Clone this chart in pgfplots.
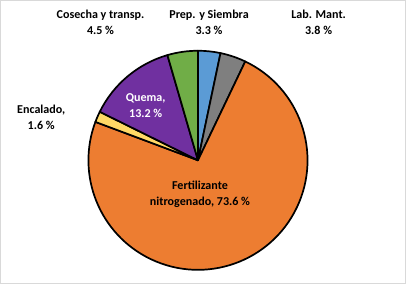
\documentclass[border=0pt]{standalone}
\usepackage{pgfplots}
\pgfplotsset{compat=1.18}
\usepackage{fontspec}
\setmainfont{Carlito}
\definecolor{cBlue}{HTML}{5B9BD5}
\definecolor{cGray}{HTML}{7F7F7F}
\definecolor{cOrange}{HTML}{ED7D31}
\definecolor{cYellow}{HTML}{FFD966}
\definecolor{cPurple}{HTML}{7030A0}
\definecolor{cGreen}{HTML}{70AD47}
\definecolor{cFrame}{HTML}{D9D9D9}
\begin{document}
\begin{tikzpicture}
\begin{axis}[
  scale only axis, width=406bp, height=285bp,
  xmin=0, xmax=406, ymin=0, ymax=285,
  hide axis, clip=false,
]
\draw[cFrame, line width=1bp] (axis cs:1.5,1.5) rectangle (axis cs:404.5,283.5);
% slices, clockwise from 12 o'clock (values in %)
\gdef\acc{90}
\foreach \v/\col in {3.3/cBlue, 3.8/cGray, 73.6/cOrange, 1.6/cYellow, 13.2/cPurple, 4.5/cGreen} {
  \pgfmathsetmacro\s{\acc}
  \pgfmathsetmacro\e{\acc-3.6*\v}
  \edef\temp{\noexpand\draw[fill=\col, draw=black, line width=1.7bp, line join=round]
     (axis cs:198,124.5) -- ++(\s:109bp) arc[start angle=\s, end angle=\e, radius=109bp] -- cycle;}
  \temp
  \xdef\acc{\e}
}
\tikzset{lbl/.style={font=\fontsize{12bp}{15.5bp}\selectfont\bfseries, align=center, inner sep=0pt}}
\node[lbl] at (axis cs:101,262) {Cosecha y transp.\\4.5 \%};
\node[lbl] at (axis cs:209,262) {Prep. y Siembra\\3.3 \%};
\node[lbl] at (axis cs:318,262) {Lab. Mant.\\3.8 \%};
\node[lbl] at (axis cs:42,167) {Encalado,\\1.6 \%};
\node[lbl, text=white] at (axis cs:146,179) {Quema,\\13.2 \%};
\node[lbl] at (axis cs:200,90.5) {Fertilizante\\nitrogenado, 73.6 \%};
\end{axis}
\end{tikzpicture}
\end{document}
